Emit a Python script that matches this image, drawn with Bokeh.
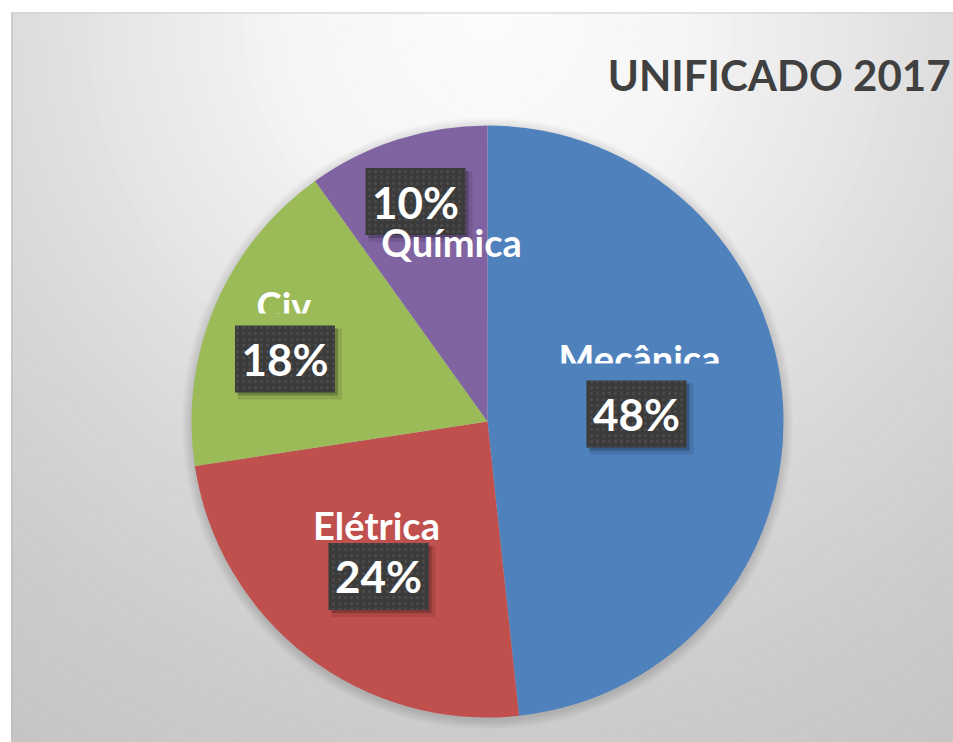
import numpy as np
from bokeh.plotting import figure
from bokeh.models import Range1d
from bokeh.core.properties import value
from bokeh.embed import file_html
from bokeh.resources import INLINE

# ---- data ----
categories = ["Mecânica", "Elétrica", "Civil", "Química"]
shown_names = ["Mecânica", "Elétrica", "Civ", "Química"]   # as visible (Civil label is truncated)
shares = [48.3, 24.3, 17.5, 9.9]
pct_labels = ["48%", "24%", "18%", "10%"]
colors = ["#4f81bd", "#c0504d", "#9bbb59", "#8064a2"]
title_text = "UNIFICADO 2017"

# ---- style / layout ----
R = 296.0
FONT = "Lato"
label_r = [0.504, 0.64, 0.716, 0.782]        # radial position of % box (fraction of R)
label_dang = [-0.16, 2.5, 5.7, 0.3]          # small angular shift (deg)
name_dx = [3, -2, -1, 36]
name_dy = [42, 38, 40, -54]                  # baseline of name relative to box centre
clip_above = [50.5, None, 45.5, None]        # truncated label lines
clip_halfw = [110, None, 38, None]
BOX_W, BOX_H = 100, 67

p = figure(width=953, height=742, output_backend="svg", toolbar_location=None,
           x_range=Range1d(-476, 466), y_range=Range1d(-321, 409),
           min_border_left=11, min_border_top=12, min_border_right=0, min_border_bottom=0)
p.axis.visible = False
p.grid.visible = False
p.outline_line_color = None
p.background_fill_color = "#c4c4c4"
p.border_fill_color = "white"

# radial background gradient (light at top centre)
gx, gy = 0, 401
dists = np.arange(1000, 0, -12)
lv = np.interp(dists, [0, 200, 400, 550, 700, 900], [252, 246, 228, 215, 205, 196])
gcols = ["#%02x%02x%02x" % (int(v), int(v), int(v)) for v in lv]
p.circle(x=[gx] * len(dists), y=[gy] * len(dists), radius=dists, fill_color=gcols, line_color=None)

# frame border (top & left)
p.segment(x0=[-476, -476], y0=[-321, 409], x1=[-476, 466], y1=[409, 409],
          line_color=["#bdbdbd", "#cfcfcf"], line_width=2)

# soft pie shadow
for k in range(10, 0, -1):
    p.circle(x=[0], y=[-2], radius=R + k, fill_color="black", fill_alpha=0.01, line_color=None)

# wedges
tot = float(sum(shares))
cum = np.concatenate([[0], np.cumsum(shares)]) / tot
starts = np.pi / 2 - 2 * np.pi * cum[:-1]
ends = np.pi / 2 - 2 * np.pi * cum[1:]
p.wedge(x=0, y=0, radius=R, start_angle=starts, end_angle=ends, direction="clock",
        fill_color=colors, line_color=None)

# label anchors
mids = (starts + ends) / 2
bx, by = [], []
for i in range(len(shares)):
    a = mids[i] + np.deg2rad(label_dang[i])
    bx.append(R * label_r[i] * np.cos(a))
    by.append(R * label_r[i] * np.sin(a))

# % boxes with shadow
p.rect(x=[v + 5 for v in bx], y=[v - 5 for v in by], width=BOX_W + 4, height=BOX_H + 4,
       fill_color="black", fill_alpha=0.10, line_color=None)
p.rect(x=[v + 3 for v in bx], y=[v - 3 for v in by], width=BOX_W, height=BOX_H,
       fill_color="black", fill_alpha=0.22, line_color=None)
p.rect(x=bx, y=by, width=BOX_W, height=BOX_H, fill_color="#3b3b3b", line_color=None,
       hatch_pattern="dot", hatch_color="#4c4c4c", hatch_scale=6, hatch_weight=1)
p.text(x=bx, y=by, text=pct_labels, text_color="white",
       text_font=value(FONT), text_font_style="bold", text_font_size="44px",
       text_align="center", text_baseline="middle")

# category names (positioned at cap-height middle)
nx = [bx[i] + name_dx[i] for i in range(len(shares))]
ny = [by[i] + name_dy[i] + 13.5 for i in range(len(shares))]
p.text(x=nx, y=ny, text=shown_names, text_color="white", text_font=value(FONT),
       text_font_style="bold", text_font_size="38px", text_align="center",
       text_baseline="middle")

# truncate the clipped label lines (bottom part hidden)
for i in range(len(shares)):
    if clip_above[i] is not None:
        top = by[i] + clip_above[i]
        p.quad(left=nx[i] - clip_halfw[i], right=nx[i] + clip_halfw[i], top=top,
               bottom=by[i] + BOX_H / 2 + 0.5, fill_color=colors[i], line_color=None)

# title
p.text(x=[463], y=[347], text=[title_text], text_color="#404040", text_font=value(FONT),
       text_font_style="bold", text_font_size="42px", text_align="right",
       text_baseline="middle")

open("out.html", "w").write(file_html(p, INLINE))
